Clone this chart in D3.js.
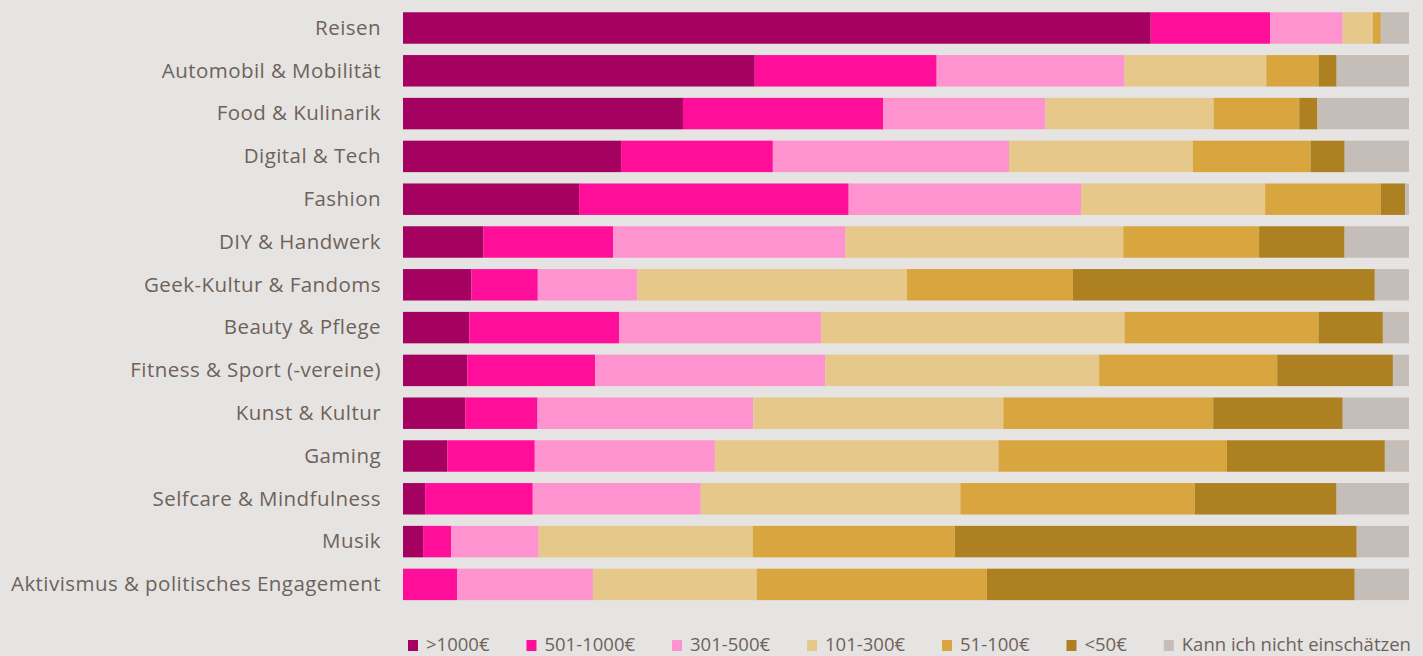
<!DOCTYPE html>
<html>
<head>
<meta charset="utf-8">
<script src="https://cdn.jsdelivr.net/npm/d3@7"></script>
<style>
  html, body { margin: 0; padding: 0; background: #E6E4E2; }
  svg { display: block; }
  text { font-family: "Open Sans", sans-serif; fill: #6E625A; }
</style>
</head>
<body>
<svg id="chart" width="1423" height="656"></svg>
<script>
// ---- data ----
const categories = [
  "Reisen",
  "Automobil & Mobilität",
  "Food & Kulinarik",
  "Digital & Tech",
  "Fashion",
  "DIY & Handwerk",
  "Geek-Kultur & Fandoms",
  "Beauty & Pflege",
  "Fitness & Sport (-vereine)",
  "Kunst & Kultur",
  "Gaming",
  "Selfcare & Mindfulness",
  "Musik",
  "Aktivismus & politisches Engagement"
];
const seriesNames = [">1000€", "501-1000€", "301-500€", "101-300€", "51-100€", "<50€", "Kann ich nicht einschätzen"];
const seriesColors = ["#A50160", "#FF0F99", "#FF93CF", "#E6C88A", "#D9A53F", "#AD8022", "#C5BDB8"];

const over1000   = [74.4, 35.0, 27.8, 21.7, 17.5,  8.0,  6.8,  6.6,  6.4,  6.2,  4.4,  2.2,  2.0,  0.0];
const s501_1000  = [11.9, 18.1, 19.9, 15.1, 26.8, 12.9,  6.6, 14.9, 12.7,  7.2,  8.7, 10.7,  2.8,  5.4];
const s301_500   = [ 7.2, 18.7, 16.1, 23.5, 23.1, 23.1,  9.9, 20.1, 22.9, 21.5, 17.9, 16.7,  8.7, 13.5];
const s101_300   = [ 3.0, 14.1, 16.7, 18.3, 18.3, 27.6, 26.8, 30.2, 27.2, 24.9, 28.2, 25.8, 21.3, 16.3];
const s51_100    = [ 0.8,  5.2,  8.5, 11.7, 11.5, 13.5, 16.5, 19.3, 17.7, 20.9, 22.7, 23.3, 20.1, 22.9];
const under50    = [ 0.0,  1.8,  1.8,  3.4,  2.4,  8.5, 30.0,  6.4, 11.5, 12.9, 15.7, 14.1, 40.0, 36.6];
const unknown    = [ 2.8,  7.2,  9.1,  6.4,  0.4,  6.4,  3.4,  2.6,  1.6,  6.6,  2.4,  7.2,  5.2,  5.4];

const seriesValues = [over1000, s501_1000, s301_500, s101_300, s51_100, under50, unknown];

// ---- build table ----
const table = categories.map((c, i) => {
  const row = { category: c };
  seriesNames.forEach((s, j) => { row[s] = seriesValues[j][i]; });
  return row;
});

const stack = d3.stack().keys(seriesNames).offset(d3.stackOffsetExpand);
const stacked = stack(table);

const svg = d3.select("#chart");
const x = d3.scaleLinear().domain([0, 1]).range([403, 1409]);
const y = d3.scaleBand().domain(categories).range([6.6, 605.8]).paddingInner(0.265).paddingOuter(0.1325);
const color = d3.scaleOrdinal().domain(seriesNames).range(seriesColors);

svg.append("g").selectAll("g")
  .data(stacked)
  .join("g")
  .attr("fill", d => color(d.key))
  .selectAll("rect")
  .data(d => d)
  .join("rect")
  .attr("x", d => x(d[0]))
  .attr("y", d => y(d.data.category))
  .attr("width", d => Math.max(0, x(d[1]) - x(d[0])))
  .attr("height", y.bandwidth());

// category labels
const yAxis = d3.axisLeft(y).tickSize(0).tickPadding(0);
const gy = svg.append("g").attr("transform", "translate(381,0)").call(yAxis);
gy.select(".domain").remove();
gy.selectAll("text")
  .attr("font-size", 20.5)
  .attr("letter-spacing", "0.45px")
  .attr("font-family", "'Open Sans', sans-serif")
  .attr("fill", "#6E625A")
  .attr("dy", "0.33em");

// legend
const legend = svg.append("g").attr("class", "legend");
let lx = 408;
seriesNames.forEach((s, i) => {
  const g = legend.append("g");
  g.append("rect").attr("x", lx).attr("y", 640).attr("width", 10).attr("height", 11).attr("fill", color(s));
  const t = g.append("text").attr("x", lx + 18).attr("y", 645).attr("dy", "0.35em")
    .attr("font-size", 18.5).text(s);
  const w = t.node().getComputedTextLength();
  lx = lx + 18 + w + 37;
});
</script>
</body>
</html>
